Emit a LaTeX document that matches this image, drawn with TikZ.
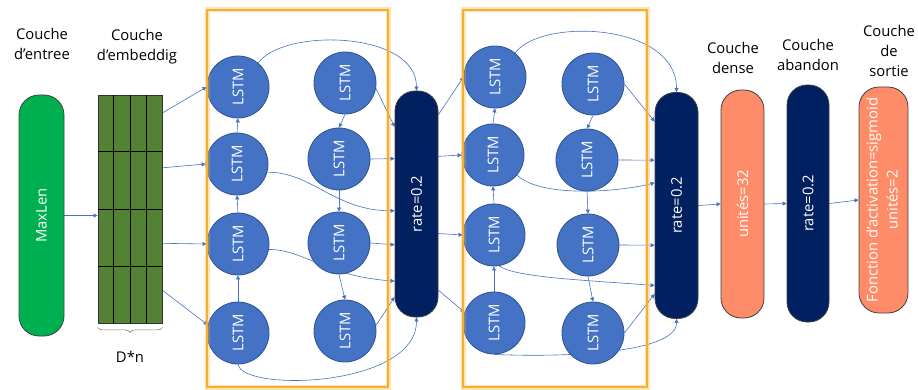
\documentclass[tikz,border=0pt]{standalone}
\usepackage{fontspec}
\setmainfont{Open Sans}
\usepackage{tikz}
\usetikzlibrary{arrows.meta, calc, backgrounds, decorations.pathreplacing}
\definecolor{lstmblue}{HTML}{4472C4}
\definecolor{lstmedge}{HTML}{2F528F}
\definecolor{dropnavy}{HTML}{002060}
\definecolor{densesalmon}{HTML}{FF8C69}
\definecolor{embgreen}{HTML}{548235}
\definecolor{inputgreen}{HTML}{00B050}
\definecolor{blockorange}{HTML}{F8AE2E}
\newcommand{\vtxt}[1]{\rotatebox{90}{#1}}

\begin{document}
\begin{tikzpicture}[
    x=1pt, y=-1pt,
    font=\fontsize{14.8}{20}\selectfont,
    lstm/.style={circle, draw=lstmedge, line width=0.8pt, fill=lstmblue, text=white, minimum size=62pt, inner sep=0pt},
    pill/.style={rounded corners=20pt, draw=black!75, line width=0.8pt, text=white, inner sep=0pt},
    drop/.style={pill, fill=dropnavy, minimum width=43pt, minimum height=226pt},
    link/.style={draw=lstmblue, line width=0.6pt, -{Triangle[length=4pt, width=4pt]}},
    title/.style={align=center, text=black},
    block/.style={draw=blockorange, line width=2.4pt},
  ]
    \useasboundingbox (0,0) rectangle (918,390);

    \node[title] (tin) at (42,44) {Couche\\d’entree};
    \node[title] (temb) at (137,47) {Couche\\d’embeddig};
    \node[title] (tdense) at (733,58) {Couche\\dense};
    \node[title] (tdrop) at (808,55) {Couche\\abandon};
    \node[title] (tout) at (889,51) {Couche\\de\\sortie};

    \node[pill, fill=inputgreen, minimum width=45pt, minimum height=241pt] (maxlen) at (41.5,215.5) {\vtxt{MaxLen}};
    \node[draw=black!80, line width=0.8pt, fill=embgreen, minimum width=64pt, minimum height=228pt, inner sep=0pt] (emb) at (130,209) {};
    \foreach \f in {0.25,0.5,0.75} {
      \draw[line width=0.8pt] ($(emb.north west)!\f!(emb.north east)$) -- ($(emb.south west)!\f!(emb.south east)$);
      \draw[line width=0.8pt] ($(emb.north west)!\f!(emb.south west)$) -- ($(emb.north east)!\f!(emb.south east)$);
    }
    \draw[black!50, line width=0.6pt, decorate, decoration={brace, amplitude=5pt, mirror}]
      ([yshift=-4pt]emb.south west) -- ([yshift=-4pt]emb.south east);
    \node (dn) at (130,357) {D*n};

    % premier bloc LSTM
    \node[lstm] (a1) at (238,87) {\vtxt{LSTM}};
    \node[lstm] (a2) at (237,164) {\vtxt{LSTM}};
    \node[lstm] (a3) at (238,244) {\vtxt{LSTM}};
    \node[lstm] (a4) at (238,333) {\vtxt{LSTM}};
    \node[lstm] (b1) at (345,83) {\vtxt{LSTM}};
    \node[lstm] (b2) at (339,159) {\vtxt{LSTM}};
    \node[lstm] (b3) at (339,243) {\vtxt{LSTM}};
    \node[lstm] (b4) at (345,331) {\vtxt{LSTM}};
    \node[drop] (drop1) at (416.5,204) {\vtxt{rate=0.2}};

    % second bloc LSTM
    \node[lstm] (c1) at (495,77) {\vtxt{LSTM}};
    \node[lstm] (c2) at (493,155) {\vtxt{LSTM}};
    \node[lstm] (c3) at (494,235) {\vtxt{LSTM}};
    \node[lstm] (c4) at (494,323) {\vtxt{LSTM}};
    \node[lstm] (d1) at (593,84) {\vtxt{LSTM}};
    \node[lstm] (d2) at (587,160) {\vtxt{LSTM}};
    \node[lstm] (d3) at (588,245) {\vtxt{LSTM}};
    \node[lstm] (d4) at (593,333) {\vtxt{LSTM}};
    \node[drop] (drop2) at (676.5,205.5) {\vtxt{rate=0.2}};

    \node[pill, fill=densesalmon, minimum width=43pt, minimum height=228pt] (dense) at (742.5,204) {\vtxt{unités=32}};
    \node[pill, fill=dropnavy, minimum width=42pt, minimum height=237pt] (drop3) at (808,203.5) {\vtxt{rate=0.2}};
    \node[pill, fill=densesalmon, minimum width=49pt, minimum height=226pt] (out) at (883.5,200)
      {\vtxt{\begin{tabular}{@{}c@{}}Fonction d’activation=sigmoid\\unités=2\end{tabular}}};

    \draw[block, opacity=0.35, line width=5pt] (207,10) rectangle (388,387) (463,10) rectangle (647,387);
    \draw[block] (207,10) rectangle (388,387) (463,10) rectangle (647,387);

    \begin{scope}[on background layer]
      \draw[link] (maxlen.east) -- (maxlen.east -| emb.west);
      \draw[link] ($(emb.north east)!0.08!(emb.south east)$) -- (a1.west);
      \draw[link] ($(emb.north east)!0.32!(emb.south east)$) -- (a2.west);
      \draw[link] ($(emb.north east)!0.65!(emb.south east)$) -- (a3.west);
      \draw[link] ($(emb.north east)!0.855!(emb.south east)$) -- (a4.165);

      \foreach \lo/\hi in {a4/a3, a3/a2, a2/a1, c4/c3, c3/c2, c2/c1}
        \draw[link] (\lo.north) -- (\hi.south);
      \foreach \hi/\lo in {b1/b2, b2/b3, b3/b4, d1/d2, d2/d3, d3/d4}
        \draw[link] (\hi.south) -- (\lo.north);

      \draw[link] (a1.50) .. controls +(25,-35) and +(0,-60) .. (drop1.north);
      \draw[link] (a2.-15) .. controls +(45,0) and +(-60,0) .. ($(drop1.north west)!0.53!(drop1.south west)$);
      \draw[link] (a3.-10) .. controls +(35,0) and +(-70,-5) .. ($(drop1.north west)!0.84!(drop1.south west)$);
      \draw[link] (a4.south) .. controls +(5,28) and +(0,70) .. (drop1.south);
      \draw[link] (b1.-10) -- ($(drop1.north west)!0.16!(drop1.south west)$);
      \draw[link] (b2.east) -- ($(drop1.north west)!0.30!(drop1.south west)$);
      \draw[link] (b3.east) -- ($(drop1.north west)!0.68!(drop1.south west)$);
      \draw[link] (b4.10) -- ($(drop1.north west)!0.91!(drop1.south west)$);

      \draw[link] ($(drop1.north east)!0.106!(drop1.south east)$) -- (c1.west);
      \draw[link] ($(drop1.north east)!0.29!(drop1.south east)$) -- (c2.west);
      \draw[link] ($(drop1.north east)!0.63!(drop1.south east)$) -- (c3.west);
      \draw[link] ($(drop1.north east)!0.88!(drop1.south east)$) -- (c4.160);

      \draw[link] (c1.50) .. controls +(25,-35) and +(0,-70) .. (drop2.north);
      \draw[link] (c2.-40) .. controls +(23,22) and +(-40,10) .. ($(drop2.north west)!0.40!(drop2.south west)$);
      \draw[link] (c3.-80) .. controls +(15,12) and +(-60,-5) .. ($(drop2.north west)!0.853!(drop2.south west)$);
      \draw[link] (c4.south) .. controls +(66,3) and +(0,35) .. (drop2.south);
      \draw[link] (d1.east) -- ($(drop2.north west)!0.13!(drop2.south west)$);
      \draw[link] (d2.east) -- ($(drop2.north west)!0.30!(drop2.south west)$);
      \draw[link] (d3.east) -- ($(drop2.north west)!0.675!(drop2.south west)$);
      \draw[link] (d4.east) -- ($(drop2.north west)!0.89!(drop2.south west)$);

      \draw[link] (drop2.east) -- (dense.west);
      \draw[link] (dense.east) -- (drop3.west);
      \draw[link] (drop3.east) -- (out.west);
    \end{scope}
  \end{tikzpicture}
\end{document}
